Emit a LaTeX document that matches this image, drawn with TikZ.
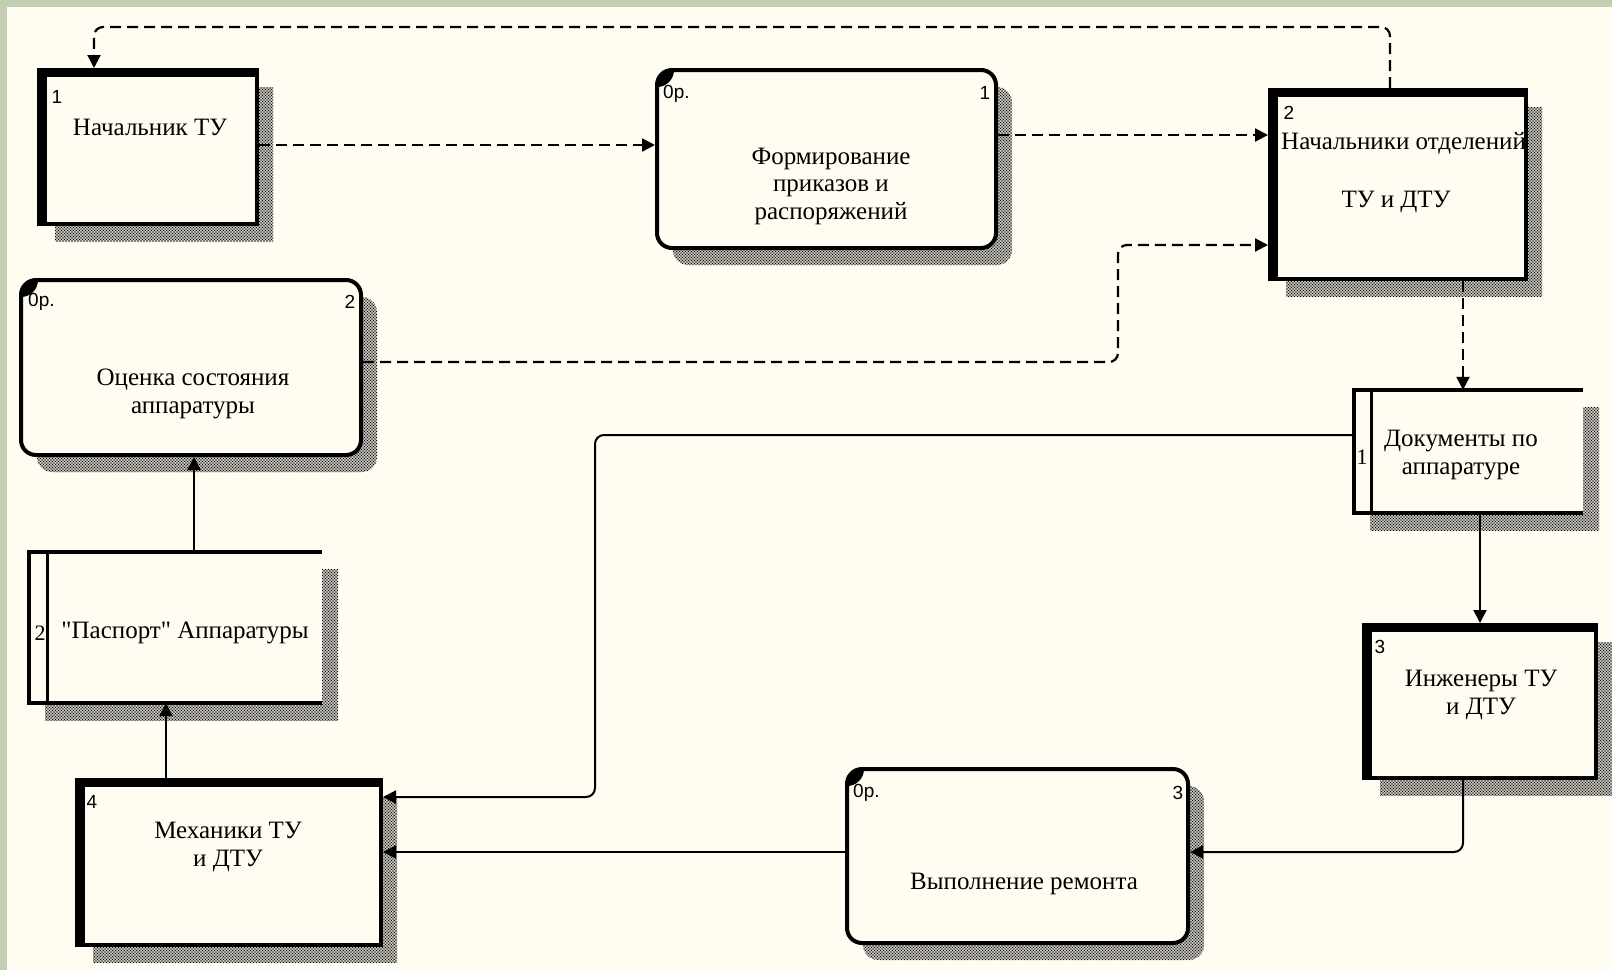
\documentclass[tikz,border=0pt]{standalone}
\usepackage{fontspec}
\setmainfont{Liberation Serif}[Ligatures=TeXOff]
\newfontfamily\tagfont{Liberation Sans}
\usetikzlibrary{patterns,arrows.meta,calc}
\definecolor{paper}{RGB}{255,252,242}
\definecolor{frame}{RGB}{195,205,178}
% dotted texture used for the drop shadows of the boxes
\pgfdeclarepatternformonly{shadowdots}{\pgfqpoint{-1pt}{-1pt}}{\pgfqpoint{2.5pt}{2.5pt}}{\pgfqpoint{3pt}{3pt}}{%
  \pgfpathcircle{\pgfqpoint{0pt}{0pt}}{.85pt}%
  \pgfpathcircle{\pgfqpoint{1.5pt}{1.5pt}}{.85pt}%
  \pgfusepath{fill}}
\begin{document}
\begin{tikzpicture}[x=1pt,y=1pt,
  txt/.style={font=\fontsize{25}{27.5}\selectfont, align=center, inner sep=0pt},
  tag/.style={font=\tagfont\fontsize{19}{22}\selectfont, inner sep=0pt},
  storetag/.style={font=\fontsize{22}{24}\selectfont, inner sep=0pt},
  dropdots/.style={preaction={draw=none, pattern=shadowdots, pattern color=black,
      transform canvas={xshift=16pt,yshift=-17pt}}},
  entity/.style={dropdots, draw, line width=4pt, fill=paper, inner sep=0pt, rectangle,
    path picture={
      \fill[black] (path picture bounding box.north west) rectangle ([xshift=8pt]path picture bounding box.south west);
      \fill[black] (path picture bounding box.north west) rectangle ([yshift=-7pt]path picture bounding box.north east);}},
  process/.style={dropdots, draw, line width=4pt, fill=paper, inner sep=0pt, rectangle, rounded corners=15pt,
    path picture={\fill[black] (path picture bounding box.north west) circle (17pt);}},
  store/.style={dropdots, fill=paper, inner sep=0pt, rectangle},
  storeline/.style={line width=4pt, line join=miter},
  flow/.style={line width=2.2pt, dash pattern=on 11pt off 6pt, -{Triangle[length=13pt,width=13pt]}, rounded corners=9pt},
  link/.style={line width=2pt, -{Triangle[length=13pt,width=13pt]}, rounded corners=9pt},
]
% page
\fill[frame] (0,0) rectangle (1612,-970);
\fill[paper] (7,-7) rectangle (1612,-970);
\useasboundingbox (0,0) rectangle (1612,-970);

% boxes
\node[entity, minimum width=218pt, minimum height=154pt] (nach) at (148,-147) {};
\node[process, minimum width=339pt, minimum height=178pt] (form) at (826.5,-159) {};
\node[entity, minimum width=256pt, minimum height=189pt] (otd) at (1398,-184.5) {};
\node[process, minimum width=340pt, minimum height=175pt] (ocen) at (191,-367.5) {};
\node[store, minimum width=229pt, minimum height=123pt] (docs) at (1468.5,-451.5) {};
\node[entity, minimum width=232pt, minimum height=153pt] (inzh) at (1480,-701.5) {};
\node[process, minimum width=341pt, minimum height=174pt] (vyp) at (1017.5,-856) {};
\node[store, minimum width=293pt, minimum height=151pt] (pasp) at (175.5,-627.5) {};
\node[entity, minimum width=304pt, minimum height=165pt] (mekh) at (229,-862.5) {};

% data stores: open on the right
\draw[storeline] (docs.north east) -- (docs.north west) -- (docs.south west) -- (docs.south east);
\draw[line width=3pt] ([xshift=18pt]docs.north west) -- ([xshift=18pt]docs.south west);
\draw[storeline] (pasp.north east) -- (pasp.north west) -- (pasp.south west) -- (pasp.south east);
\draw[line width=3pt] ([xshift=19pt]pasp.north west) -- ([xshift=19pt]pasp.south west);

% labels
\node[tag] (nach-n) at (57,-97) {1};
\node[txt] (nach-t) at (150,-127) {Начальник ТУ};
\node[tag, anchor=west] (form-id) at (663,-94) {0р.};
\node[tag] (form-n) at (985,-93) {1};
\node[txt] (form-t) at (831,-186) {Формирование\\приказов и\\распоряжений};
\node[tag] (otd-n) at (1289,-113) {2};
\node[txt, anchor=west] (otd-t1) at (1281,-143) {Начальники отделений};
\node[txt] (otd-t2) at (1396,-202) {ТУ и ДТУ};
\node[tag, anchor=west] (ocen-id) at (28,-302) {0р.};
\node[tag] (ocen-n) at (350,-302) {2};
\node[txt] (ocen-t) at (193,-394) {Оценка состояния\\аппаратуры};
\node[storetag] (docs-n) at (1362,-457) {1};
\node[txt] (docs-t) at (1461,-455) {Документы по\\аппаратуре};
\node[tag] (inzh-n) at (1380,-647) {3};
\node[txt] (inzh-t) at (1481,-695) {Инженеры ТУ\\и ДТУ};
\node[tag, anchor=west] (vyp-id) at (853,-793) {0р.};
\node[tag] (vyp-n) at (1178,-793) {3};
\node[txt] (vyp-t) at (1024,-884) {Выполнение ремонта};
\node[storetag] (pasp-n) at (40,-633) {2};
\node[txt] (pasp-t) at (185,-633) {"Паспорт" Аппаратуры};
\node[tag] (mekh-n) at (92,-802) {4};
\node[txt] (mekh-t) at (228,-847) {Механики ТУ\\и ДТУ};

% flows
\draw[flow] (nach.east |- 0,-145) -- (form.west |- 0,-145);
\draw[flow] (form.east |- 0,-135) -- (otd.west |- 0,-135);
\draw[flow] (ocen.east |- 0,-362) -- (1118,-362) -- (1118,-245) -- (otd.west |- 0,-245);
\draw[flow] (otd.north -| 1390,0) -- (1390,-27) -- (94,-27) -- (nach.north -| 94,0);
\draw[flow] (otd.south -| 1463,0) -- (docs.north -| 1463,0);
\draw[link] (docs.south -| 1480,0) -- (inzh.north -| 1480,0);
\draw[link] (inzh.south -| 1463,0) -- (1463,-852) -- (vyp.east |- 0,-852);
\draw[link] (vyp.west |- 0,-852) -- (mekh.east |- 0,-852);
\draw[link] (docs.west |- 0,-435) -- (595,-435) -- (595,-797) -- (mekh.east |- 0,-797);
\draw[link] (pasp.north -| 194,0) -- (ocen.south -| 194,0);
\draw[link] (mekh.north -| 166,0) -- (pasp.south -| 166,0);
\end{tikzpicture}
\end{document}
